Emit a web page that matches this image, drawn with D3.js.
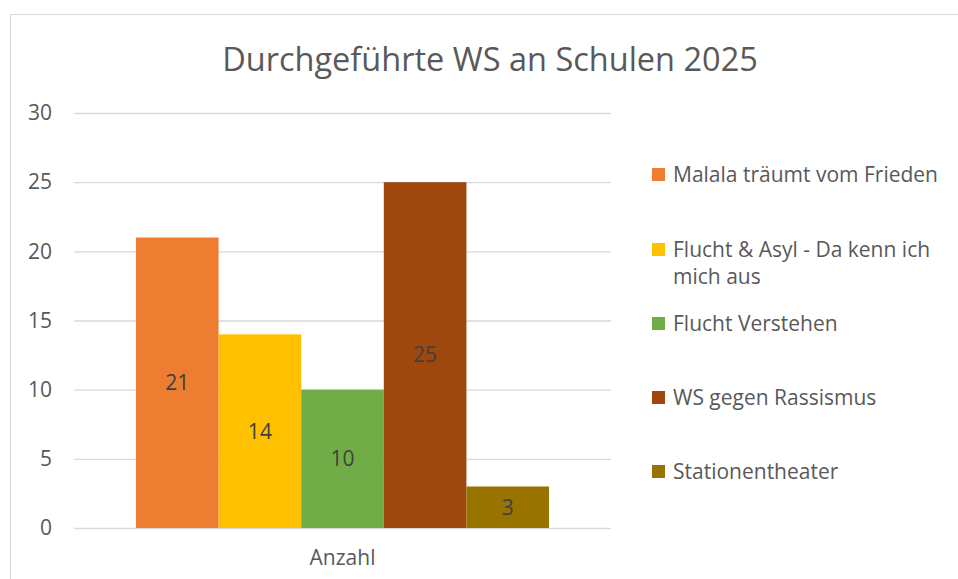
<!DOCTYPE html>
<html>
<head>
<meta charset="utf-8">
<script src="https://cdn.jsdelivr.net/npm/d3@7"></script>
<style>
  body { margin: 0; background: #fff; }
  svg text { font-family: "Open Sans", Lato, sans-serif; }
</style>
</head>
<body>
<svg id="chart" width="958" height="579"></svg>
<script>
// chart data
const categories = ["Anzahl"];
const seriesNames = ["Malala träumt vom Frieden", "Flucht & Asyl - Da kenn ich mich aus", "Flucht Verstehen", "WS gegen Rassismus", "Stationentheater"];
const seriesValues = [21, 14, 10, 25, 3];
const seriesColors = ["#ED7D31", "#FFC000", "#70AD47", "#9E480E", "#997300"];
const yTicks = [0, 5, 10, 15, 20, 25, 30];
const legendLines = [["Malala träumt vom Frieden"], ["Flucht & Asyl - Da kenn ich", "mich aus"], ["Flucht Verstehen"], ["WS gegen Rassismus"], ["Stationentheater"]];

const svg = d3.select("#chart");
const margin = { top: 113, left: 74, right: 347, bottom: 51 };
const width = 958, height = 579;
const font = "'Open Sans', Lato, sans-serif";

// outer chart border
svg.append("rect")
  .attr("x", 10.5).attr("y", 14.5)
  .attr("width", 960).attr("height", 600)
  .attr("fill", "#fff")
  .attr("stroke", "#d9d9d9");

// title
svg.append("text")
  .attr("x", 490).attr("y", 71)
  .attr("text-anchor", "middle")
  .attr("fill", "#595959")
  .attr("font-size", 32.5)
  .text("Durchgeführte WS an Schulen 2025");

const y = d3.scaleLinear()
  .domain([0, 30])
  .range([height - margin.bottom, margin.top]);

const x0 = d3.scaleBand()
  .domain(categories)
  .range([margin.left, width - margin.right])
  .paddingInner(0)
  .paddingOuter(0.15);

const x1 = d3.scaleBand()
  .domain(seriesNames)
  .range([0, x0.bandwidth()]);

// gridlines + y labels
const yAxis = svg.append("g")
  .attr("transform", `translate(${margin.left},0)`)
  .call(d3.axisLeft(y).tickValues(yTicks).tickSize(-(width - margin.right - margin.left)).tickPadding(22));
yAxis.select(".domain").remove();
yAxis.selectAll(".tick line").attr("stroke", "#d9d9d9").attr("stroke-width", 1.3);
yAxis.selectAll(".tick text")
  .attr("fill", "#595959")
  .attr("font-size", 21)
  .attr("font-family", font);

// bars
const group = svg.append("g")
  .selectAll("g")
  .data(categories)
  .join("g")
  .attr("transform", d => `translate(${x0(d)},0)`);

const barData = seriesNames.map((name, i) => ({ name, value: seriesValues[i], color: seriesColors[i] }));

group.selectAll("rect")
  .data(barData)
  .join("rect")
  .attr("x", d => x1(d.name))
  .attr("y", d => y(d.value))
  .attr("width", x1.bandwidth())
  .attr("height", d => y(0) - y(d.value))
  .attr("fill", d => d.color);

group.selectAll("text.value")
  .data(barData)
  .join("text")
  .attr("class", "value")
  .attr("x", d => x1(d.name) + x1.bandwidth() / 2)
  .attr("y", d => (y(d.value) + y(0)) / 2)
  .attr("dy", "0.35em")
  .attr("text-anchor", "middle")
  .attr("fill", "#404040")
  .attr("font-size", 21)
  .text(d => d.value);

// category label
svg.append("g")
  .attr("transform", `translate(0,${y(0)})`)
  .call(d3.axisBottom(x0).tickSize(0).tickPadding(22))
  .call(g => g.select(".domain").remove())
  .selectAll("text")
  .attr("fill", "#595959")
  .attr("font-size", 21)
  .attr("font-family", font);

// legend
const legendY = [175, 250, 324, 398, 472];
const legend = svg.append("g")
  .selectAll("g")
  .data(barData)
  .join("g")
  .attr("transform", (d, i) => `translate(652,${legendY[i]})`);

legend.append("rect")
  .attr("x", 0).attr("y", -7)
  .attr("width", 13).attr("height", 13)
  .attr("fill", d => d.color);

legend.append("text")
  .attr("x", 21)
  .attr("fill", "#595959")
  .attr("font-size", 21)
  .selectAll("tspan")
  .data((d, i) => legendLines[i])
  .join("tspan")
  .attr("x", 21)
  .attr("y", (d, j) => j * 27)
  .attr("dy", "0.35em")
  .text(d => d);
</script>
</body>
</html>
